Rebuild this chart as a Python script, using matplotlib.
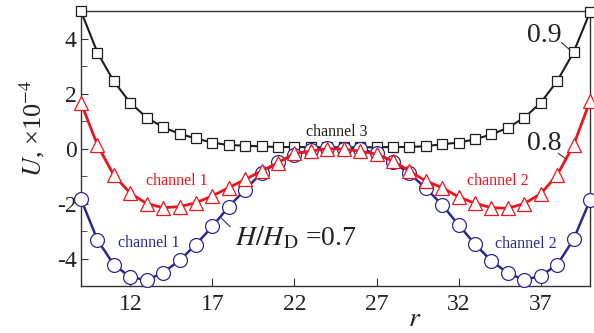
import matplotlib
matplotlib.use("Agg")
import matplotlib.pyplot as plt
import numpy as np

plt.rcParams['font.family'] = ['Liberation Serif', 'DejaVu Serif']
plt.rcParams['mathtext.fontset'] = 'stix'
plt.rcParams['axes.unicode_minus'] = False

r = list(range(9, 41))
u_09 = [5.0, 3.5, 2.45, 1.67, 1.13, 0.78, 0.54, 0.37, 0.22, 0.13, 0.11, 0.08, 0.06, 0.06, 0.05, 0.05,
        0.05, 0.05, 0.05, 0.06, 0.06, 0.09, 0.16, 0.22, 0.34, 0.52, 0.76, 1.13, 1.67, 2.46, 3.51, 4.97]
u_08 = [1.67, 0.13, -0.97, -1.62, -2.0, -2.15, -2.11, -1.97, -1.72, -1.42, -1.12, -0.81, -0.51, -0.17, -0.09, 0.0,
        -0.02, -0.09, -0.2, -0.45, -0.81, -1.18, -1.42, -1.76, -1.99, -2.15, -2.17, -2.0, -1.64, -0.96, 0.13, 1.73]
u_07 = [-1.84, -3.32, -4.23, -4.67, -4.79, -4.51, -4.07, -3.49, -2.83, -2.11, -1.49, -0.88, -0.5, -0.22, -0.05, 0.02,
        0.0, -0.02, -0.17, -0.49, -0.9, -1.44, -2.05, -2.78, -3.48, -4.09, -4.53, -4.78, -4.63, -4.23, -3.3, -1.88]
xticks = [12, 17, 22, 27, 32, 37]
yticks = [-4, -2, 0, 2, 4]

black = '#1e1e1e'
red = '#e8161e'
blue = '#2a2a8c'

fig = plt.figure(figsize=(5.94, 3.33), dpi=100)
ax = fig.add_axes([81/594, 1-286/333, (590-81)/594, (286-11.3)/333])

ax.plot(r, u_09, color=black, lw=1.5, marker='s', ms=7.5, mfc='white', mec=black, mew=0.9, clip_on=False, zorder=3)
ax.plot(r, u_07, color=blue, lw=1.8, marker='o', ms=10, mfc='white', mec=blue, mew=0.9, clip_on=False, zorder=4)
ax.plot(r, u_08, color=red, lw=2.0, marker='^', ms=10.5, mfc='white', mec=red, mew=0.9, clip_on=False, zorder=5)

ax.set_xlim(9, 40)
ax.set_ylim(-5, 5)
ax.set_xticks(xticks)
ax.set_yticks(yticks)
ax.set_yticks([-3, -1, 1, 3], minor=True)
ax.tick_params(axis='both', which='both', direction='in', labelsize=17, colors='#333333', labelcolor='#222222')
ax.tick_params(axis='x', length=6, pad=6)
ax.tick_params(axis='y', which='major', length=5, pad=3)
ax.tick_params(axis='y', which='minor', length=4)
for s in ax.spines.values():
    s.set_color('#333333')
    s.set_linewidth(1.0)

# labels
fig.text(32/594, 1-128/333, r'$U$, ×10$^{-4}$', rotation=90, ha='center', va='center', fontsize=19, color='#222222')
fig.text(415/594, 1-332/333, r'$r$', ha='center', va='bottom', fontsize=20, color='#222222')

def px(x, y):
    return (x/594, 1-y/333)

fig.text(*px(177, 181), 'channel 1', color=red, fontsize=11.5, ha='center', va='center')
fig.text(*px(149, 243), 'channel 1', color=blue, fontsize=11.5, ha='center', va='center')
fig.text(*px(337, 132), 'channel 3', color=black, fontsize=11.5, ha='center', va='center')
fig.text(*px(498, 181), 'channel 2', color=red, fontsize=11.5, ha='center', va='center')
fig.text(*px(526, 244), 'channel 2', color=blue, fontsize=11.5, ha='center', va='center')

fig.text(*px(235, 245), r'$H/H_{\mathrm{D}}$ =0.7', color='#222222', fontsize=20, ha='left', va='baseline')
fig.text(*px(544, 36), '0.9', color='#222222', fontsize=20, ha='center', va='center')
fig.text(*px(544, 144), '0.8', color='#222222', fontsize=20, ha='center', va='center')

for (x0, y0, x1, y1) in [(561.7, 42.7, 570, 50), (558.3, 153.3, 565, 158.3), (221.7, 218.3, 230, 226.7)]:
    fig.add_artist(plt.Line2D([x0/594, x1/594], [1-y0/333, 1-y1/333], color='#333333', lw=0.8))

fig.savefig('out.png', dpi=100)
